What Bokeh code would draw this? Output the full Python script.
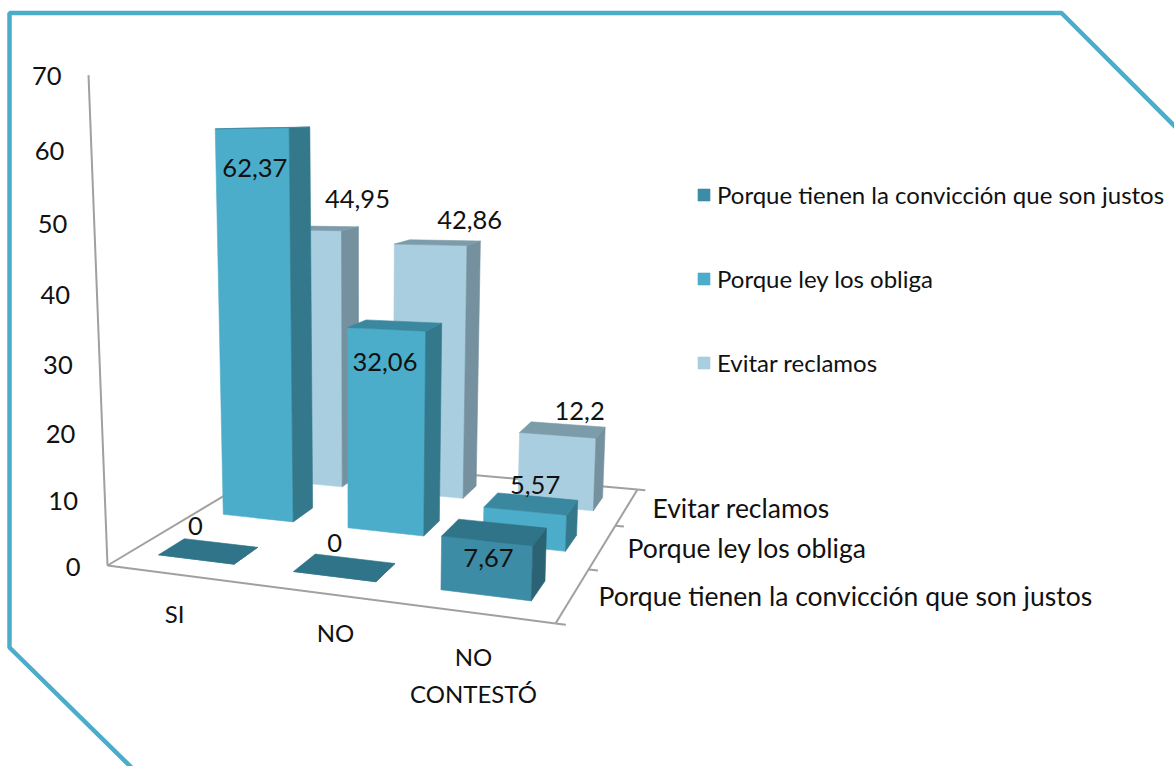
from bokeh.plotting import figure
from bokeh.embed import file_html
from bokeh.resources import INLINE
from bokeh.models import Range1d, Legend, LegendItem
from bokeh.core.properties import value

# ---------- data ----------
categories = ["SI", "NO", "NO\nCONTESTÓ"]
series_names = ["Porque tienen la convicción que son justos", "Porque ley los obliga", "Evitar reclamos"]
conviccion = [0, 0, 7.67]
ley = [62.37, 32.06, 5.57]
reclamos = [44.95, 42.86, 12.2]
value_labels = [["0", "0", "7,67"], ["62,37", "32,06", "5,57"], ["44,95", "42,86", "12,2"]]
y_ticks = [0, 10, 20, 30, 40, 50, 60, 70]
y_max = 70

# ---------- style ----------
FONT = "Lato"
front = ["#3C8CA6", "#4BADC9", "#A9CEDF"]
side = ["#2C6374", "#34788C", "#75909E"]
top = ["#2F7488", "#3A87A0", "#7C9CAA"]
AXIS = "#A0A0A0"
FRAME = "#4BADC9"

# ---------- 3D projection calibrated on the plot box ----------
a, b, c = 375.6, 266.7, 107.0
d, e, f = -23.3, 33.5, 565.0
g, h = -0.1305, 0.3068
k, vx, vy = -0.0698, 360.0, 7100.0

def proj(u, v, val):
    w = val / y_max
    den = g * u + h * v + 1 + k * w
    return ((a * u + b * v + c + vx * k * w) / den,
            (d * u + e * v + f + vy * k * w) / den)

BAR_U = 0.57
BAR_V = 0.375

p = figure(width=1174, height=766, x_range=Range1d(0, 1174), y_range=Range1d(766, 0),
           output_backend="svg", toolbar_location=None, min_border=0,
           background_fill_color="white", border_fill_color="white")
p.xaxis.visible = False
p.yaxis.visible = False
p.grid.visible = False
p.outline_line_color = None

# frame
p.line([132, 9, 9, 1061, 1176], [768, 647, 12.5, 12.5, 127.5], line_color=FRAME, line_width=4.5)

# floor and axes
def seg(p0, p1, color=AXIS, width=2):
    p.line([p0[0], p1[0]], [p0[1], p1[1]], line_color=color, line_width=width)

seg(proj(0, 0, 0), proj(0, 0, y_max))
seg(proj(0, 0, 0), proj(1, 0, 0))
seg(proj(1, 0, 0), proj(1, 1, 0))
seg(proj(0, 0, 0), proj(0, 1, 0))
seg(proj(0, 1, 0), proj(1, 1, 0))
for j in range(4):
    seg(proj(1, j / 3, 0), proj(1.02, j / 3, 0))

# bars, painted back to front
vals = [conviccion, ley, reclamos]
legend_refs = {}
for j in (2, 1, 0):
    for i in range(3):
        val = vals[j][i]
        uc, vc = (i + 0.5) / 3, (j + 0.5) / 3
        u0, u1 = uc - BAR_U / 6, uc + BAR_U / 6
        v0, v1 = vc - BAR_V / 6, vc + BAR_V / 6
        faces = [
            ([(u0, v0, 0), (u1, v0, 0), (u1, v0, val), (u0, v0, val)], front[j]),
            ([(u1, v0, 0), (u1, v1, 0), (u1, v1, val), (u1, v0, val)], side[j]),
            ([(u0, v0, val), (u1, v0, val), (u1, v1, val), (u0, v1, val)], top[j] if val > 0 else top[0]),
        ]
        for n, (pts, col) in enumerate(faces):
            xy = [proj(*q) for q in pts]
            r = p.patch([q[0] for q in xy], [q[1] for q in xy], fill_color=col,
                        line_color=col, line_width=0.6)
            if n == 0 and j not in legend_refs:
                legend_refs[j] = r

# text helper
def label(x, y, s, size=22, align="center"):
    p.text([x], [y], text=[s], text_font=value(FONT), text_font_size=f"{size}px",
           text_align=align, text_baseline="middle", text_color="#111111")

# value labels (offset from the top centre of each bar)
offsets = {(0, 0): (-13, -25), (1, 0): (-10, -24), (2, 0): (-6, 26),
           (0, 1): (-8, 40), (1, 1): (-10, 37), (2, 1): (4, -19),
           (0, 2): (41, -29), (1, 2): (32, -23), (2, 2): (17, -19)}
for j in range(3):
    for i in range(3):
        x, y = proj((i + 0.5) / 3, (j + 0.5) / 3, vals[j][i])
        dx, dy = offsets[(i, j)]
        label(x + dx, y + dy, value_labels[j][i], 25.5)

# y tick labels
for t in y_ticks:
    x, y = proj(0, 0, t)
    label(x - 27, y + 1, str(t), 25.5, "right")

# category labels
cat_pos = [(174, 613), (335, 632), (473, 656)]
for name, (x, y) in zip(categories, cat_pos):
    for n, part in enumerate(name.split("\n")):
        label(x, y + n * 37, part, 24)

# depth axis labels
depth_pos = [(598, 595), (627, 547), (652, 507)]
for name, (x, y) in zip(series_names, depth_pos):
    label(x, y, name, 26.5, "left")

# legend
items = [LegendItem(label=series_names[j], renderers=[legend_refs[j]]) for j in range(3)]
leg = Legend(items=items, location=(696, 389), glyph_width=15, glyph_height=15,
             label_standoff=6, spacing=55, padding=0, margin=0,
             background_fill_alpha=0, border_line_color=None,
             label_text_font=FONT, label_text_font_size="24px", label_text_color="#111111")
p.add_layout(leg, "center")

open("out.html", "w").write(file_html(p, INLINE))
